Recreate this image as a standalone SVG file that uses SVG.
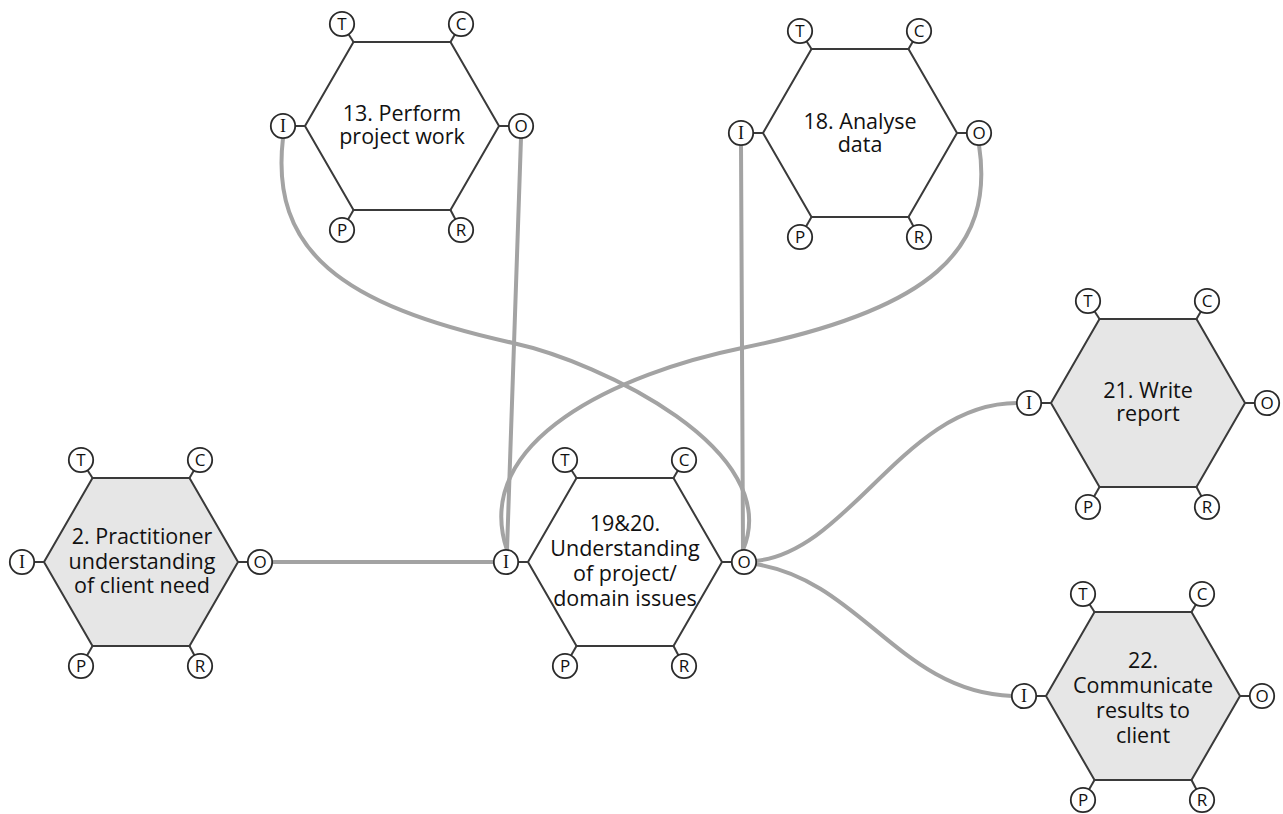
<svg xmlns="http://www.w3.org/2000/svg" width="1283" height="814" viewBox="0 0 1283 814">
<style>
.hex{stroke:#3a3a3a;stroke-width:2;stroke-linejoin:miter}
.white{fill:#ffffff}
.grey{fill:#e6e6e6}
.stub{stroke:#3a3a3a;stroke-width:2}
.port{fill:#ffffff;stroke:#2a2a2a;stroke-width:1.8}
.pl{font-family:"Open Sans","Noto Sans",sans-serif;font-size:17px;fill:#111;text-anchor:middle}
.pi{font-family:"Liberation Serif",serif;font-size:18px;fill:#111;text-anchor:middle}
.lbl{font-family:"Open Sans","Noto Sans",sans-serif;font-size:21.5px;fill:#111;text-anchor:middle}
.conn{fill:none;stroke:#a3a3a3;stroke-width:4;stroke-linecap:round}
</style>
<defs>
<g id="ports">
<line class="stub" x1="-97" y1="0" x2="-119" y2="0"/>
<line class="stub" x1="97" y1="0" x2="119" y2="0"/>
<line class="stub" x1="-48.5" y1="-84" x2="-60" y2="-102"/>
<line class="stub" x1="48.5" y1="-84" x2="59" y2="-102"/>
<line class="stub" x1="-48.5" y1="84" x2="-60" y2="104"/>
<line class="stub" x1="48.5" y1="84" x2="59" y2="104"/>
<circle class="port" cx="-60" cy="-102" r="12.2"/>
<circle class="port" cx="59" cy="-102" r="12.2"/>
<circle class="port" cx="-119" cy="0" r="12.2"/>
<circle class="port" cx="119" cy="0" r="12.2"/>
<circle class="port" cx="-60" cy="104" r="12.2"/>
<circle class="port" cx="59" cy="104" r="12.2"/>
<text class="pl" x="-60" y="-96">T</text>
<text class="pl" x="59" y="-96">C</text>
<text class="pi" x="-119" y="6">I</text>
<text class="pl" x="119" y="6">O</text>
<text class="pl" x="-60" y="110">P</text>
<text class="pl" x="59" y="110">R</text>
</g>
</defs>
<g id="connectors">
<line class="conn" x1="271.5" y1="562" x2="495" y2="562"/>
<line class="conn" x1="521" y1="138" x2="507" y2="550"/>
<line class="conn" x1="741" y1="145" x2="743" y2="550"/>
<path class="conn" d="M283 138 C270 250 340 305 513 343 C600 362 785 450 743 550"/>
<path class="conn" d="M979 145 C995 250 930 310 742 348 C620 373 470 440 507 550"/>
<path class="conn" d="M755 561 C850 552 905 402 1018 403"/>
<path class="conn" d="M755 564 C860 580 900 692 1012 696"/>
</g>
<g id="node13" transform="translate(402,126)">
<polygon class="hex white" points="-97,0 -48.5,-84 48.5,-84 97,0 48.5,84 -48.5,84"/>
<use href="#ports"/>
<text class="lbl" x="0" y="-5">13. Perform<tspan x="0" dy="23">project work</tspan></text>
</g>
<g id="node18" transform="translate(860,133)">
<polygon class="hex white" points="-97,0 -48.5,-84 48.5,-84 97,0 48.5,84 -48.5,84"/>
<use href="#ports"/>
<text class="lbl" x="0" y="-4">18. Analyse<tspan x="0" dy="23">data</tspan></text>
</g>
<g id="node2" transform="translate(141,562)">
<polygon class="hex grey" points="-97,0 -48.5,-84 48.5,-84 97,0 48.5,84 -48.5,84"/>
<use href="#ports"/>
<text class="lbl" x="1" y="-18">2. Practitioner<tspan x="1" dy="25">understanding</tspan><tspan x="1" dy="24">of client need</tspan></text>
</g>
<g id="node19" transform="translate(625,562)">
<polygon class="hex white" points="-97,0 -48.5,-84 48.5,-84 97,0 48.5,84 -48.5,84"/>
<use href="#ports"/>
<text class="lbl" x="0" y="-31">19&amp;20.<tspan x="0" dy="25">Understanding</tspan><tspan x="0" dy="25">of project/</tspan><tspan x="0" dy="25">domain issues</tspan></text>
</g>
<g id="node21" transform="translate(1148,403)">
<polygon class="hex grey" points="-97,0 -48.5,-84 48.5,-84 97,0 48.5,84 -48.5,84"/>
<use href="#ports"/>
<text class="lbl" x="0" y="-5">21. Write<tspan x="0" dy="23">report</tspan></text>
</g>
<g id="node22" transform="translate(1143,696)">
<polygon class="hex grey" points="-97,0 -48.5,-84 48.5,-84 97,0 48.5,84 -48.5,84"/>
<use href="#ports"/>
<text class="lbl" x="0" y="-28">22.<tspan x="0" dy="25">Communicate</tspan><tspan x="0" dy="25">results to</tspan><tspan x="0" dy="25">client</tspan></text>
</g>
</svg>
